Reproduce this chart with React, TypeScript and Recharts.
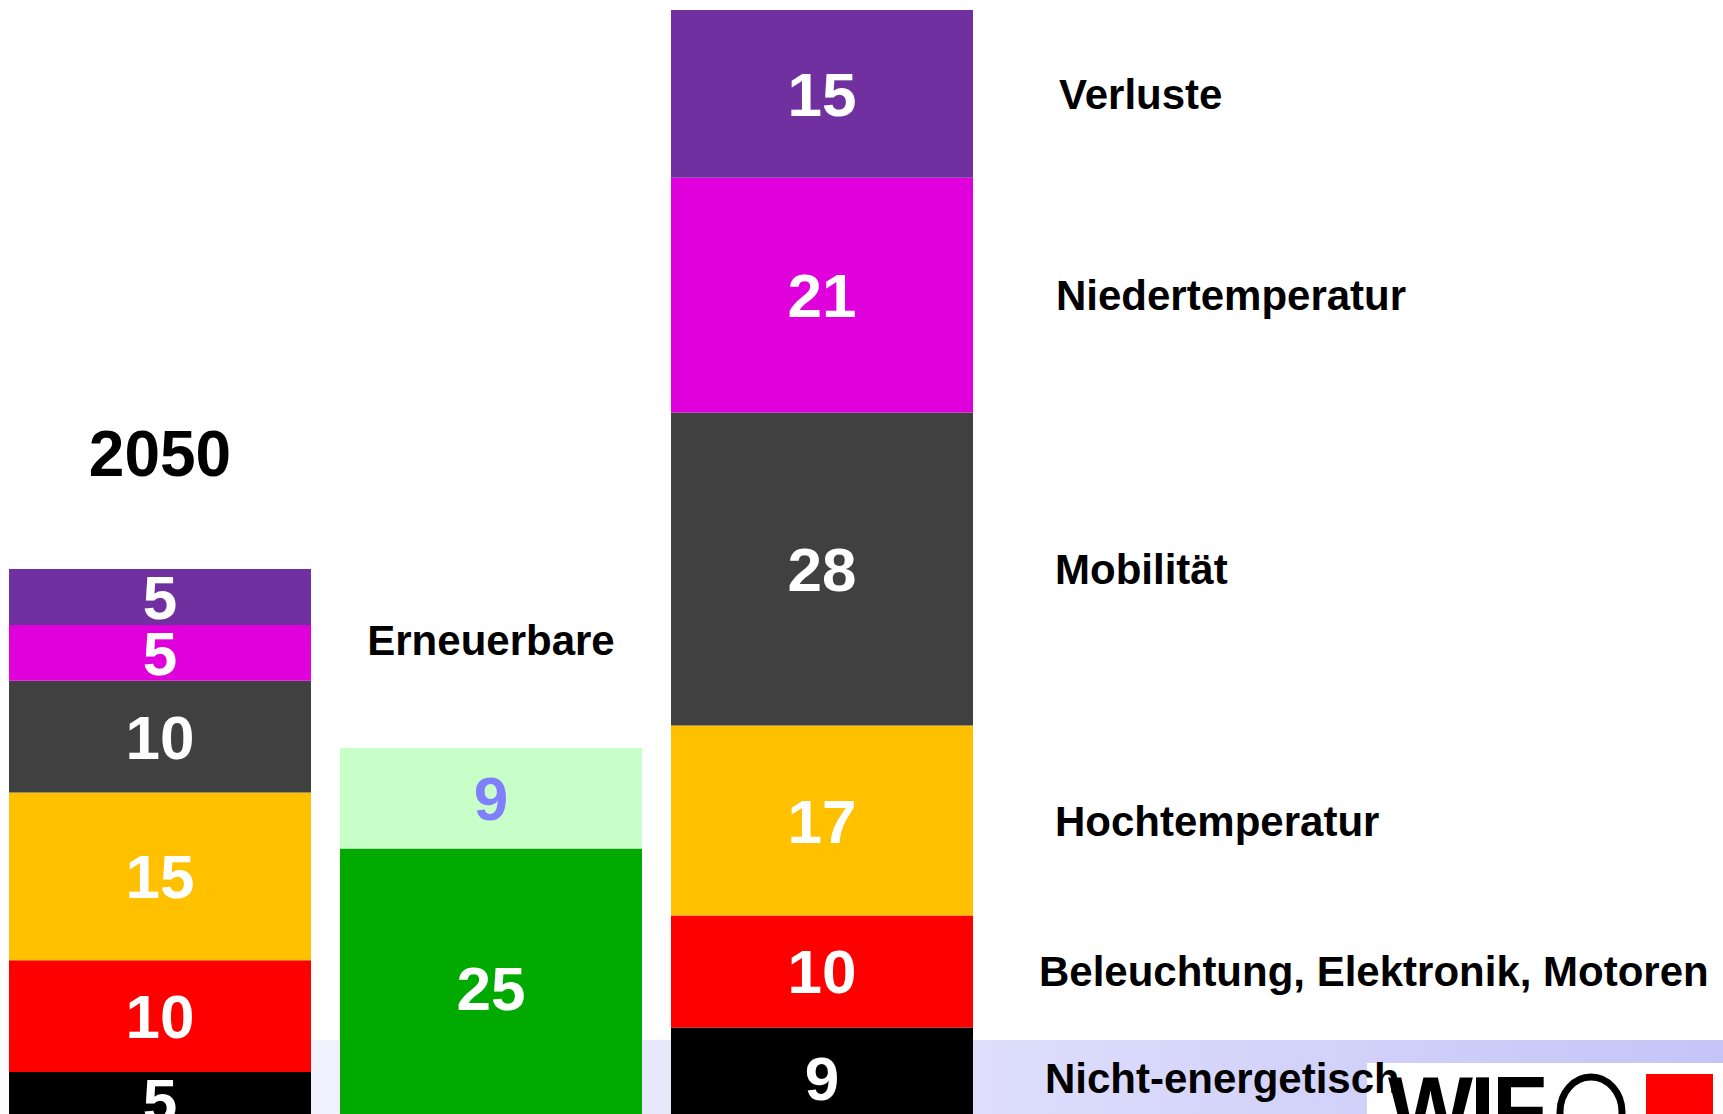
import React from "react";
import { BarChart, Bar, XAxis, YAxis, LabelList } from "recharts";

// columns of the slide: 2050 demand, renewables, total energy use
const columns = ["2050", "Erneuerbare", "Gesamt"];
const headers = ["2050", "Erneuerbare", ""];

// demand by purpose (stacked bottom to top)
const nichtEnergetisch = [5, 0, 9];
const beleuchtung = [10, 0, 10];
const hochtemperatur = [15, 0, 17];
const mobilitaet = [10, 0, 28];
const niedertemperatur = [5, 0, 21];
const verluste = [5, 0, 15];

// renewables column
const erneuerbar = [0, 25, 0];
const erneuerbarPlus = [0, 9, 0];

const SERIES = [
  { key: "nicht", name: "Nicht-energetisch", values: nichtEnergetisch, color: "#000000", gap: 72 },
  { key: "bel", name: "Beleuchtung, Elektronik, Motoren", values: beleuchtung, color: "#FF0000", gap: 66 },
  { key: "hoch", name: "Hochtemperatur", values: hochtemperatur, color: "#FFC000", gap: 82 },
  { key: "mob", name: "Mobilität", values: mobilitaet, color: "#404040", gap: 82 },
  { key: "nieder", name: "Niedertemperatur", values: niedertemperatur, color: "#E000DC", gap: 83 },
  { key: "verl", name: "Verluste", values: verluste, color: "#7030A0", gap: 86 },
];

const last = columns.length - 1;
const data = columns.map((column, i) => {
  const row: Record<string, any> = {
    column,
    ern: erneuerbar[i],
    ernPlus: erneuerbarPlus[i],
    headVerl: verluste[i] > 0 ? headers[i] : "",
    headErn: erneuerbarPlus[i] > 0 ? headers[i] : "",
  };
  SERIES.forEach((s) => {
    row[s.key] = s.values[i];
    row[s.key + "Name"] = i === last ? s.name : "";
  });
  return row;
});

const FONT = '"Liberation Sans", Arial, Helvetica, sans-serif';
const CHART_LEFT = -6;

const box = (p: any) => {
  const vb = p.viewBox || p;
  return { x: Number(vb.x), y: Number(vb.y), width: Number(vb.width), height: Number(vb.height) };
};

const valueLabel = (color: string) => (p: any) => {
  if (!p.value) return null;
  const { x, y, width, height } = box(p);
  return (
    <text x={x + width / 2} y={y + height / 2 + 22} textAnchor="middle" fill={color}
      fontFamily={FONT} fontWeight="bold" fontSize={62}>
      {p.value}
    </text>
  );
};

// series name next to the last (total) column
const nameLabel = (gap: number) => (p: any) => {
  if (!p.value) return null;
  const { x, y, width, height } = box(p);
  return (
    <text x={x + width + gap} y={y + height / 2 + 15} textAnchor="start" fill="#000"
      fontFamily={FONT} fontWeight="bold" fontSize={42}>
      {p.value}
    </text>
  );
};

const headerLabel = (p: any) => {
  if (!p.value) return null;
  const { x, y, width } = box(p);
  const big = p.value === "2050";
  return (
    <text x={x + width / 2} y={y - 93} textAnchor="middle" fill="#000"
      fontFamily={FONT} fontWeight="bold" fontSize={big ? 64 : 42}>
      {p.value}
    </text>
  );
};

export default function App() {
  return (
    <div style={{ position: "absolute", left: 0, top: 0, width: 1723, height: 1114, overflow: "hidden", background: "#fff" }}>
      {/* light band along the bottom */}
      <div style={{ position: "absolute", left: 0, top: 1040, width: 1723, height: 74,
        background: "linear-gradient(to right, #FCFCFF, #E2E2FC 50%, #C4C4F8)" }} />
      {/* WIFO logo */}
      <svg width={1723} height={1114} style={{ position: "absolute", left: 0, top: 0 }}>
        <rect x={1367} y={1063} width={356} height={60} fill="#fff" />
        <text x={1388} y={1140} fontFamily={FONT} fontWeight="bold" fontSize={90} letterSpacing={-3} fill="#000">WIF</text>
        <ellipse cx={1591} cy={1112} rx={31} ry={35} fill="none" stroke="#000" strokeWidth={7} />
        <rect x={1646} y={1074} width={67} height={60} fill="#FF0000" />
      </svg>
      <div style={{ position: "absolute", left: CHART_LEFT, top: 0 }}>
        <BarChart width={1729} height={1128} data={data} barSize={302}
          margin={{ top: 10, right: 736, left: 0, bottom: 0 }}>
          <XAxis dataKey="column" hide />
          <YAxis hide domain={[0, 100]} allowDataOverflow />
          {SERIES.map((s) => (
            <Bar key={s.key} dataKey={s.key} stackId="a" fill={s.color} isAnimationActive={false}>
              <LabelList dataKey={s.key} content={valueLabel("#fff")} />
              <LabelList dataKey={s.key + "Name"} content={nameLabel(s.gap)} />
              {s.key === "verl" && <LabelList dataKey="headVerl" content={headerLabel} />}
            </Bar>
          ))}
          <Bar dataKey="ern" stackId="a" fill="#00AA00" isAnimationActive={false}>
            <LabelList dataKey="ern" content={valueLabel("#fff")} />
          </Bar>
          <Bar dataKey="ernPlus" stackId="a" fill="#C8FFC8" isAnimationActive={false}>
            <LabelList dataKey="ernPlus" content={valueLabel("#8080FF")} />
            <LabelList dataKey="headErn" content={headerLabel} />
          </Bar>
        </BarChart>
      </div>
    </div>
  );
}
